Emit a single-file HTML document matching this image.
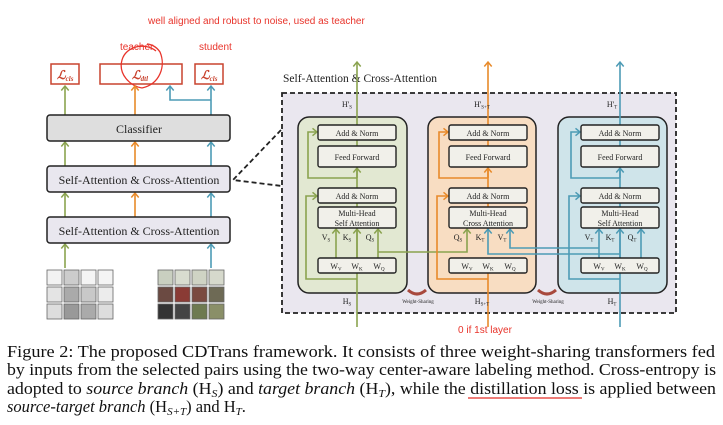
<!DOCTYPE html>
<html><head><meta charset="utf-8"><style>
html,body{margin:0;padding:0;background:#fff;}
svg{display:block;}
.s{font-family:"Liberation Serif",serif;}
.a{font-family:"Liberation Sans",sans-serif;}
</style></head><body>
<svg width="723" height="425" viewBox="0 0 723 425" xmlns="http://www.w3.org/2000/svg">
<defs>
<marker id="mg" markerWidth="9" markerHeight="9" refX="7.5" refY="4.5" orient="auto" markerUnits="userSpaceOnUse" viewBox="0 0 9 9"><path d="M3,0.8 L7.5,4.5 L3,8.2" fill="none" stroke="#8aa34f" stroke-width="1.5"/></marker>
<marker id="mo" markerWidth="9" markerHeight="9" refX="7.5" refY="4.5" orient="auto" markerUnits="userSpaceOnUse" viewBox="0 0 9 9"><path d="M3,0.8 L7.5,4.5 L3,8.2" fill="none" stroke="#e88a2a" stroke-width="1.5"/></marker>
<marker id="mb" markerWidth="9" markerHeight="9" refX="7.5" refY="4.5" orient="auto" markerUnits="userSpaceOnUse" viewBox="0 0 9 9"><path d="M3,0.8 L7.5,4.5 L3,8.2" fill="none" stroke="#4d9bb5" stroke-width="1.5"/></marker>
</defs>

<text x="148" y="24" class="a" font-size="10" fill="#e8332a">well aligned and robust to noise, used as teacher</text>
<text x="120" y="50" class="a" font-size="10" fill="#e8332a">teacher</text>
<text x="199" y="50" class="a" font-size="10" fill="#e8332a">student</text>

<g fill="#fff" stroke="#c9432f" stroke-width="1.5">
<rect x="51" y="64" width="28" height="20"/>
<rect x="100" y="64" width="82" height="20"/>
<rect x="195" y="64" width="28" height="20"/>
</g>
<g class="s" font-weight="bold" fill="#c9432f">
<text x="57" y="79" font-size="12" font-style="italic">ℒ<tspan font-size="7" dy="2">cls</tspan></text>
<text x="132" y="79" font-size="12" font-style="italic">ℒ<tspan font-size="7" dy="2">dtl</tspan></text>
<text x="201" y="79" font-size="12" font-style="italic">ℒ<tspan font-size="7" dy="2">cls</tspan></text>
</g>
<path d="M156,51 C145,42 126,46 122,60 C118,74 130,86 142,88 M142,88 C160,84 166,66 160,52 C156,46 150,44 147,44" fill="none" stroke="#e8332a" stroke-width="1.3"/>

<g stroke-width="1.6" fill="none">
<line x1="65" y1="115" x2="65" y2="86" stroke="#8aa34f" marker-end="url(#mg)"/>
<line x1="135" y1="115" x2="135" y2="86" stroke="#e88a2a" marker-end="url(#mo)"/>
<line x1="211" y1="115" x2="211" y2="86" stroke="#4d9bb5" marker-end="url(#mb)"/>
<polyline points="211,100 170,100 170,86" stroke="#4d9bb5" marker-end="url(#mb)"/>
<line x1="65" y1="166" x2="65" y2="142" stroke="#8aa34f" marker-end="url(#mg)"/>
<line x1="135" y1="166" x2="135" y2="142" stroke="#e88a2a" marker-end="url(#mo)"/>
<line x1="211" y1="166" x2="211" y2="142" stroke="#4d9bb5" marker-end="url(#mb)"/>
<line x1="65" y1="217" x2="65" y2="193" stroke="#8aa34f" marker-end="url(#mg)"/>
<line x1="135" y1="217" x2="135" y2="193" stroke="#e88a2a" marker-end="url(#mo)"/>
<line x1="211" y1="217" x2="211" y2="193" stroke="#4d9bb5" marker-end="url(#mb)"/>
<line x1="65" y1="268" x2="65" y2="244" stroke="#8aa34f" marker-end="url(#mg)"/>
<line x1="211" y1="268" x2="211" y2="244" stroke="#4d9bb5" marker-end="url(#mb)"/>
</g>
<g stroke="#222" stroke-width="1.5">
<rect x="47" y="115" width="183" height="26" rx="3" fill="#dedede"/>
<rect x="47" y="166" width="183" height="26" rx="3" fill="#e9e7ef"/>
<rect x="47" y="217" width="183" height="26" rx="3" fill="#e9e7ef"/>
</g>
<g class="s" font-size="12" fill="#222" text-anchor="middle">
<text x="139" y="133">Classifier</text>
<text x="139" y="184">Self-Attention &amp; Cross-Attention</text>
<text x="139" y="235">Self-Attention &amp; Cross-Attention</text>
</g>

<g stroke="#666" stroke-width="0.8">
<rect x="47" y="270" width="15" height="15" fill="#f2f2f2"/><rect x="64" y="270" width="15" height="15" fill="#ccc"/><rect x="81" y="270" width="15" height="15" fill="#f4f4f4"/><rect x="98" y="270" width="15" height="15" fill="#f4f4f4"/>
<rect x="47" y="287" width="15" height="15" fill="#e4e4e4"/><rect x="64" y="287" width="15" height="15" fill="#aaa"/><rect x="81" y="287" width="15" height="15" fill="#c8c8c8"/><rect x="98" y="287" width="15" height="15" fill="#ececec"/>
<rect x="47" y="304" width="15" height="15" fill="#ddd"/><rect x="64" y="304" width="15" height="15" fill="#999"/><rect x="81" y="304" width="15" height="15" fill="#aaa"/><rect x="98" y="304" width="15" height="15" fill="#ddd"/>
<rect x="158" y="270" width="15" height="15" fill="#c9cfc0"/><rect x="175" y="270" width="15" height="15" fill="#d8dccf"/><rect x="192" y="270" width="15" height="15" fill="#cfd3c4"/><rect x="209" y="270" width="15" height="15" fill="#d6d9cc"/>
<rect x="158" y="287" width="15" height="15" fill="#6b4a42"/><rect x="175" y="287" width="15" height="15" fill="#8a3b35"/><rect x="192" y="287" width="15" height="15" fill="#7a4a40"/><rect x="209" y="287" width="15" height="15" fill="#6e6a55"/>
<rect x="158" y="304" width="15" height="15" fill="#333"/><rect x="175" y="304" width="15" height="15" fill="#444"/><rect x="192" y="304" width="15" height="15" fill="#6e7a50"/><rect x="209" y="304" width="15" height="15" fill="#8a8f68"/>
</g>

<text x="283" y="82" class="s" font-size="11.5" fill="#222">Self-Attention &amp; Cross-Attention</text>
<rect x="282" y="93" width="394" height="220" fill="#eae7ef" stroke="#222" stroke-width="1.8" stroke-dasharray="5,3"/>
<path d="M281,130 L233,180 L282,186" fill="none" stroke="#222" stroke-width="1.8" stroke-dasharray="5,3"/>

<rect x="298" y="117" width="109" height="176" rx="11" fill="#e2e8d2" stroke="#222" stroke-width="1.5"/>
<rect x="428" y="117" width="108" height="176" rx="11" fill="#f8ddc2" stroke="#222" stroke-width="1.5"/>
<rect x="558" y="117" width="109" height="176" rx="11" fill="#cfe4ea" stroke="#222" stroke-width="1.5"/>

<g fill="none" stroke-width="1.6">
<g stroke="#8aa34f">
<line x1="357" y1="327" x2="357" y2="62" marker-end="url(#mg)"/>
<polyline points="357,279 306,279 306,196 317,196" marker-end="url(#mg)"/>
<polyline points="357,178 308,178 308,132 317,132" marker-end="url(#mg)"/>
<line x1="357" y1="178" x2="357" y2="168" marker-end="url(#mg)"/>
<line x1="336" y1="258" x2="336" y2="229" marker-end="url(#mg)"/>
<line x1="357" y1="258" x2="357" y2="229" marker-end="url(#mg)"/>
<line x1="378" y1="258" x2="378" y2="229" marker-end="url(#mg)"/>
<polyline points="378,252 467,252 467,229" marker-end="url(#mg)"/>
</g>
<g stroke="#e88a2a">
<line x1="488" y1="327" x2="488" y2="273"/>
<line x1="488" y1="207" x2="488" y2="62" marker-end="url(#mo)"/>
<polyline points="488,279 437,279 437,196 448,196" marker-end="url(#mo)"/>
<polyline points="488,178 439,178 439,132 448,132" marker-end="url(#mo)"/>
<line x1="488" y1="178" x2="488" y2="168" marker-end="url(#mo)"/>
</g>
<g stroke="#4d9bb5">
<line x1="620" y1="327" x2="620" y2="62" marker-end="url(#mb)"/>
<polyline points="620,279 569,279 569,196 580,196" marker-end="url(#mb)"/>
<polyline points="620,178 571,178 571,132 580,132" marker-end="url(#mb)"/>
<line x1="620" y1="178" x2="620" y2="168" marker-end="url(#mb)"/>
<line x1="599" y1="258" x2="599" y2="229" marker-end="url(#mb)"/>
<line x1="620" y1="258" x2="620" y2="229" marker-end="url(#mb)"/>
<line x1="641" y1="258" x2="641" y2="229" marker-end="url(#mb)"/>
<polyline points="620,254 488,254 488,229" marker-end="url(#mb)"/>
<polyline points="599,248 510,248 510,229" marker-end="url(#mb)"/>
</g>
</g>

<g fill="#f1f0ea" stroke="#222" stroke-width="1.4">
<rect x="318" y="125" width="78" height="15" rx="2"/><rect x="318" y="146" width="78" height="21" rx="2"/><rect x="318" y="188" width="78" height="15" rx="2"/><rect x="318" y="207" width="78" height="21" rx="2"/><rect x="318" y="258" width="78" height="15" rx="2"/>
<rect x="449" y="125" width="78" height="15" rx="2"/><rect x="449" y="146" width="78" height="21" rx="2"/><rect x="449" y="188" width="78" height="15" rx="2"/><rect x="449" y="207" width="78" height="21" rx="2"/><rect x="449" y="258" width="78" height="15" rx="2"/>
<rect x="581" y="125" width="78" height="15" rx="2"/><rect x="581" y="146" width="78" height="21" rx="2"/><rect x="581" y="188" width="78" height="15" rx="2"/><rect x="581" y="207" width="78" height="21" rx="2"/><rect x="581" y="258" width="78" height="15" rx="2"/>
</g>
<g class="s" font-size="8" fill="#222" text-anchor="middle">
<text x="357" y="136">Add &amp; Norm</text><text x="357" y="160">Feed Forward</text><text x="357" y="199">Add &amp; Norm</text><text x="357" y="216">Multi-Head</text><text x="357" y="226">Self Attention</text>
<text x="488" y="136">Add &amp; Norm</text><text x="488" y="160">Feed Forward</text><text x="488" y="199">Add &amp; Norm</text><text x="488" y="216">Multi-Head</text><text x="488" y="226">Cross Attention</text>
<text x="620" y="136">Add &amp; Norm</text><text x="620" y="160">Feed Forward</text><text x="620" y="199">Add &amp; Norm</text><text x="620" y="216">Multi-Head</text><text x="620" y="226">Self Attention</text>
<text x="336" y="269">W<tspan font-size="5" dy="1.5">V</tspan></text><text x="357" y="269">W<tspan font-size="5" dy="1.5">K</tspan></text><text x="379" y="269">W<tspan font-size="5" dy="1.5">Q</tspan></text>
<text x="467" y="269">W<tspan font-size="5" dy="1.5">V</tspan></text><text x="488" y="269">W<tspan font-size="5" dy="1.5">K</tspan></text><text x="510" y="269">W<tspan font-size="5" dy="1.5">Q</tspan></text>
<text x="599" y="269">W<tspan font-size="5" dy="1.5">V</tspan></text><text x="620" y="269">W<tspan font-size="5" dy="1.5">K</tspan></text><text x="642" y="269">W<tspan font-size="5" dy="1.5">Q</tspan></text>
<text x="326" y="240">V<tspan font-size="5" dy="1.5">S</tspan></text><text x="347" y="240">K<tspan font-size="5" dy="1.5">S</tspan></text><text x="370" y="240">Q<tspan font-size="5" dy="1.5">S</tspan></text>
<text x="458" y="240">Q<tspan font-size="5" dy="1.5">S</tspan></text><text x="480" y="240">K<tspan font-size="5" dy="1.5">T</tspan></text><text x="502" y="240">V<tspan font-size="5" dy="1.5">T</tspan></text>
<text x="589" y="240">V<tspan font-size="5" dy="1.5">T</tspan></text><text x="610" y="240">K<tspan font-size="5" dy="1.5">T</tspan></text><text x="632" y="240">Q<tspan font-size="5" dy="1.5">T</tspan></text>
<text x="347" y="107">H'<tspan font-size="5" dy="1.5">S</tspan></text><text x="482" y="107">H'<tspan font-size="5" dy="1.5">S+T</tspan></text><text x="612" y="107">H'<tspan font-size="5" dy="1.5">T</tspan></text>
<text x="347" y="304">H<tspan font-size="5" dy="1.5">S</tspan></text><text x="482" y="304">H<tspan font-size="5" dy="1.5">S+T</tspan></text><text x="612" y="304">H<tspan font-size="5" dy="1.5">T</tspan></text>
<text x="418" y="303" font-size="5">Weight-Sharing</text>
<text x="548" y="303" font-size="5">Weight-Sharing</text>
</g>
<g fill="none" stroke="#a8493d" stroke-width="3">
<path d="M408,290 Q417,298 426,290"/>
<path d="M538,290 Q547,298 556,290"/>
</g>
<text x="485" y="333" text-anchor="middle" class="a" font-size="10" fill="#e8332a">0 if 1st layer</text>

<g class="s" font-size="16.5" fill="#111">
<text x="7" y="357" textLength="708" lengthAdjust="spacingAndGlyphs">Figure 2: The proposed CDTrans framework. It consists of three weight-sharing transformers fed</text>
<text x="7" y="375" textLength="709" lengthAdjust="spacingAndGlyphs">by inputs from the selected pairs using the two-way center-aware labeling method. Cross-entropy is</text>
<text x="7" y="394" textLength="709" lengthAdjust="spacingAndGlyphs">adopted to <tspan font-style="italic">source branch</tspan> (H<tspan font-size="11" font-style="italic" dy="3">S</tspan><tspan dy="-3">) and </tspan><tspan font-style="italic">target branch</tspan> (H<tspan font-size="11" font-style="italic" dy="3">T</tspan><tspan dy="-3">), while the distillation loss is applied between</tspan></text>
<text x="7" y="412"><tspan font-style="italic">source-target branch</tspan> (H<tspan font-size="11" font-style="italic" dy="3">S+T</tspan><tspan dy="-3">) and H</tspan><tspan font-size="11" font-style="italic" dy="3">T</tspan><tspan dy="-3">.</tspan></text>
</g>
<line x1="468" y1="398" x2="582" y2="398" stroke="#e8504a" stroke-width="1.5"/>
</svg>
</body></html>
